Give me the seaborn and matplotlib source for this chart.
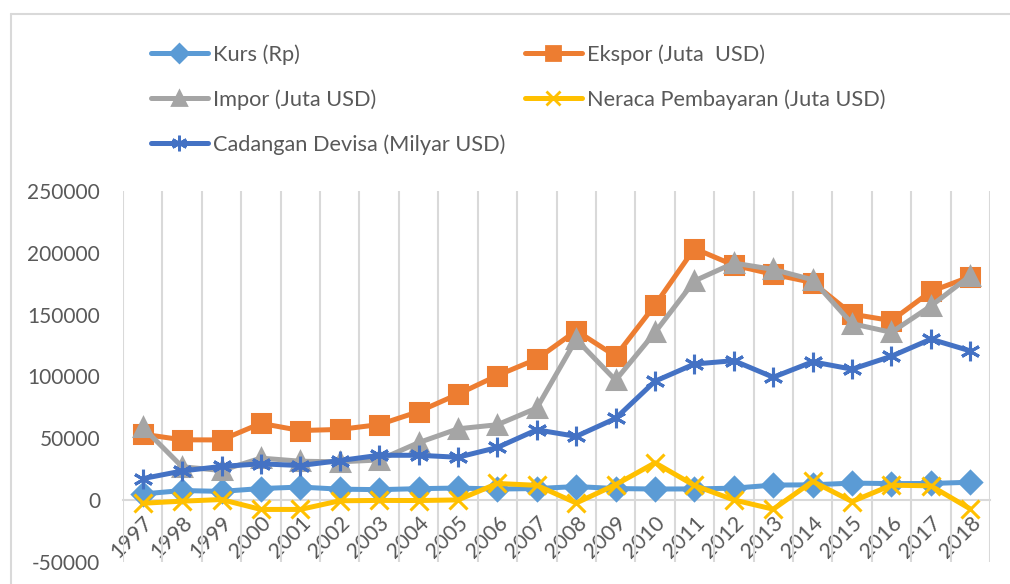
import matplotlib.pyplot as plt
import matplotlib.lines as mlines
import seaborn as sns
import pandas as pd

years = list(range(1997, 2019))
kurs = [5000, 7800, 7100, 9400, 10600, 8900, 8500, 9300, 9800, 9000, 9400, 11000,
        9400, 9000, 9100, 9700, 12200, 12400, 13800, 13400, 13500, 14500]
ekspor = [53400, 48800, 48700, 62100, 56300, 57200, 61100, 71600, 85700, 100800, 114100, 137000,
          116500, 157800, 203500, 190000, 182600, 176000, 150400, 145200, 168800, 180700]
impor = [59000, 27000, 24000, 34000, 31500, 31000, 32500, 46500, 57700, 61000, 74500, 130000,
         97000, 135700, 177300, 191700, 186600, 178200, 142700, 135700, 157000, 181500]
neraca = [-2500, -800, 500, -7500, -7500, -500, -200, -300, 200, 13500, 12000, -2300,
          12500, 30200, 11900, 200, -7300, 15200, -1100, 12100, 11600, -7100]
cadangan = [17400, 23600, 27300, 29400, 28000, 32000, 36300, 36300, 34700, 42600, 56900, 51600,
            66100, 96200, 110100, 112800, 99400, 111900, 105900, 116400, 130200, 120700]

labels = ["Kurs (Rp)", "Ekspor (Juta  USD)", "Impor (Juta USD)",
          "Neraca Pembayaran (Juta USD)", "Cadangan Devisa (Milyar USD)"]
series = [kurs, ekspor, impor, neraca, cadangan]
colors = ["#5B9BD5", "#ED7D31", "#A5A5A5", "#FFC000", "#4472C4"]
markers = ["D", "s", "^", "x", (6, 2, 0)]
msizes = [11, 13, 13, 13, 14]

sns.set_style("white")
plt.rcParams['font.family'] = ['Lato', 'DejaVu Sans']
text_col = "#595959"

fig = plt.figure(figsize=(10.1, 5.84), dpi=100)
ax = fig.add_axes([123 / 1010, 22 / 584, 867 / 1010, 371 / 584])

for lab, vals, col, mk, ms in zip(labels, series, colors, markers, msizes):
    df = pd.DataFrame({"Tahun": years, "Nilai": vals})
    sns.lineplot(data=df, x="Tahun", y="Nilai", ax=ax, color=col, linewidth=3.6,
                 marker=mk, markersize=ms, markeredgecolor=col, markeredgewidth=2.2,
                 label=lab, legend=False)

ax.set_xlim(1996.5, 2018.5)
ax.set_ylim(-50000, 250000)
ax.set_yticks(range(-50000, 250001, 50000))
ax.set_yticklabels([str(v) for v in range(-50000, 250001, 50000)])
ax.set_xticks(years)
ax.set_xticklabels([str(y) for y in years])
ax.set_xticks([y - 0.5 for y in years] + [2018.5], minor=True)
ax.xaxis.grid(True, which='minor', color="#D9D9D9", linewidth=1.5)
ax.xaxis.grid(False, which='major')
ax.yaxis.grid(False)
ax.set_xlabel("")
ax.set_ylabel("")

for s in ["top", "right", "left"]:
    ax.spines[s].set_visible(False)
ax.spines["bottom"].set_position(("data", 0))
ax.spines["bottom"].set_color("#D9D9D9")
ax.spines["bottom"].set_linewidth(1.5)
ax.spines["bottom"].set_zorder(0.5)

ax.tick_params(axis='x', which='both', length=0, pad=9, labelsize=15.5, labelcolor=text_col)
ax.tick_params(axis='y', length=0, pad=16.5, labelsize=15, labelcolor=text_col)
ax.tick_params(axis='x', labelrotation=45)
plt.setp(ax.get_xticklabels(), ha='right', va='top', rotation_mode='anchor')

# legend
handles = [mlines.Line2D([], [], color=c, linewidth=3.6, marker=m, markersize=ms * 0.8,
                         markeredgecolor=c, markeredgewidth=2)
           for c, m, ms in zip(colors, markers, msizes)]
order = [0, 2, 4, 1, 3]
fig.legend([handles[i] for i in order], [labels[i] for i in order], ncol=2,
           loc='upper left', bbox_to_anchor=(151 / 1010, 1 - 44 / 584),
           frameon=False, fontsize=15.7, labelcolor=text_col,
           handlelength=2.6, handletextpad=0.25, columnspacing=0.9,
           labelspacing=1.12, borderpad=0, borderaxespad=0)

# chart area border (left and top)
fig.add_artist(mlines.Line2D([10.5 / 1010, 10.5 / 1010], [0, 1 - 14 / 584],
                             transform=fig.transFigure, color="#D9D9D9", linewidth=1.5))
fig.add_artist(mlines.Line2D([10.5 / 1010, 1], [1 - 14 / 584, 1 - 14 / 584],
                             transform=fig.transFigure, color="#D9D9D9", linewidth=1.5))

fig.savefig("out.png", dpi=100, facecolor="white")
